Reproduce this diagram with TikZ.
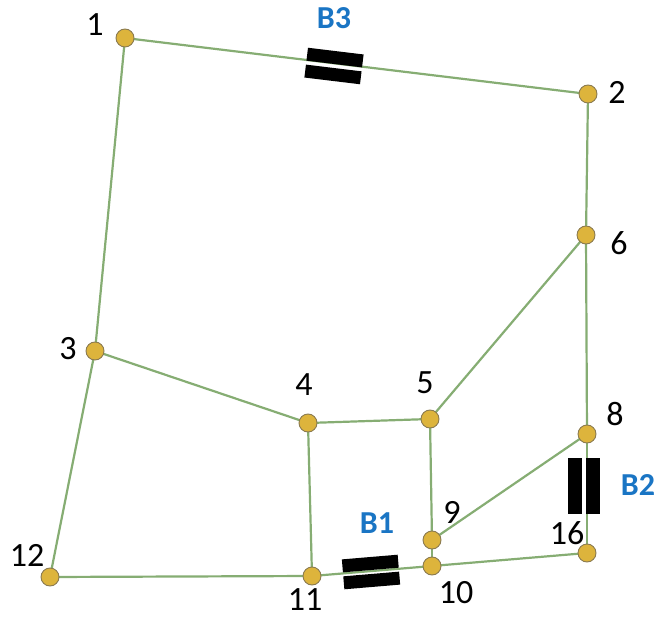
\documentclass[tikz,border=0pt]{standalone}
\usepackage{fontspec}
\setmainfont{Carlito}
\definecolor{edgegreen}{HTML}{86AD73}
\definecolor{nodegold}{HTML}{DDB43C}
\definecolor{nodeedge}{HTML}{8A7A50}
\definecolor{bblue}{HTML}{1A75C4}
\tikzset{
  vtx/.style={circle,fill=nodegold,draw=nodeedge,line width=0.9pt,minimum size=18pt,inner sep=0pt},
  edg/.style={draw=edgegreen,line width=2.2pt},
  num/.style={font=\fontsize{34}{34}\selectfont,inner sep=0pt},
  blab/.style={font=\fontsize{32}{32}\selectfont\bfseries,text=bblue,inner sep=0pt},
  bar/.style={fill=black,draw=none}
}
\begin{document}
\begin{tikzpicture}[x=1pt,y=-1pt]
\useasboundingbox (0,0) rectangle (661,620);
% vertices
\coordinate (p1) at (125,38);
\coordinate (p2) at (588,94);
\coordinate (p6) at (586,235);
\coordinate (p3) at (95,351);
\coordinate (p4) at (308,423);
\coordinate (p5) at (430,419);
\coordinate (p8) at (587,434);
\coordinate (p9) at (432,540);
\coordinate (p10) at (432,566);
\coordinate (p11) at (312,576);
\coordinate (p12) at (50,577);
\coordinate (p16) at (587,553);
% edges
\draw[edg] (p1) -- (p2);
\draw[edg] (p2) -- (p6);
\draw[edg] (p6) -- (p8);
\draw[edg] (p6) -- (p5);
\draw[edg] (p1) -- (p3);
\draw[edg] (p3) -- (p4);
\draw[edg] (p3) -- (p12);
\draw[edg] (p4) -- (p5);
\draw[edg] (p4) -- (p11);
\draw[edg] (p5) -- (p9);
\draw[edg] (p9) -- (p8);
\draw[edg] (p9) -- (p10);
\draw[edg] (p8) -- (p16);
\draw[edg] (p12) -- (p11);
\draw[edg] (p11) -- (p10);
\draw[edg] (p10) -- (p16);
% breakers
\begin{scope}[shift={(334,66)},rotate=-6.9]
  \fill[bar] (-28,-15) rectangle (28,-2);
  \fill[bar] (-28,2) rectangle (28,15);
\end{scope}
\begin{scope}[shift={(584,486)}]
  \fill[bar] (-16,-28) rectangle (-2,28);
  \fill[bar] (2,-28) rectangle (16,28);
\end{scope}
\begin{scope}[shift={(371,572)},rotate=4.8]
  \fill[bar] (-28,-15) rectangle (28,-2);
  \fill[bar] (-28,2) rectangle (28,15);
\end{scope}
% nodes
\foreach \n in {1,2,3,4,5,6,8,9,10,11,12,16} {\node[vtx] (n\n) at (p\n) {};}
% labels
\node[num] (l1) at (95,25) {1};
\node[num] (l2) at (617,92) {2};
\node[num] (l6) at (619,243) {6};
\node[num] (l3) at (68,349) {3};
\node[num] (l4) at (304,385) {4};
\node[num] (l5) at (425,383) {5};
\node[num] (l8) at (615,414) {8};
\node[num] (l9) at (452,512) {9};
\node[num] (l16) at (567,533) {16};
\node[num] (l10) at (456,593) {10};
\node[num] (l11) at (305,600) {11};
\node[num] (l12) at (27,555) {12};
\node[blab] (b3) at (334,18) {B3};
\node[blab] (b2) at (638,485) {B2};
\node[blab] (b1) at (377,523) {B1};
\end{tikzpicture}
\end{document}
